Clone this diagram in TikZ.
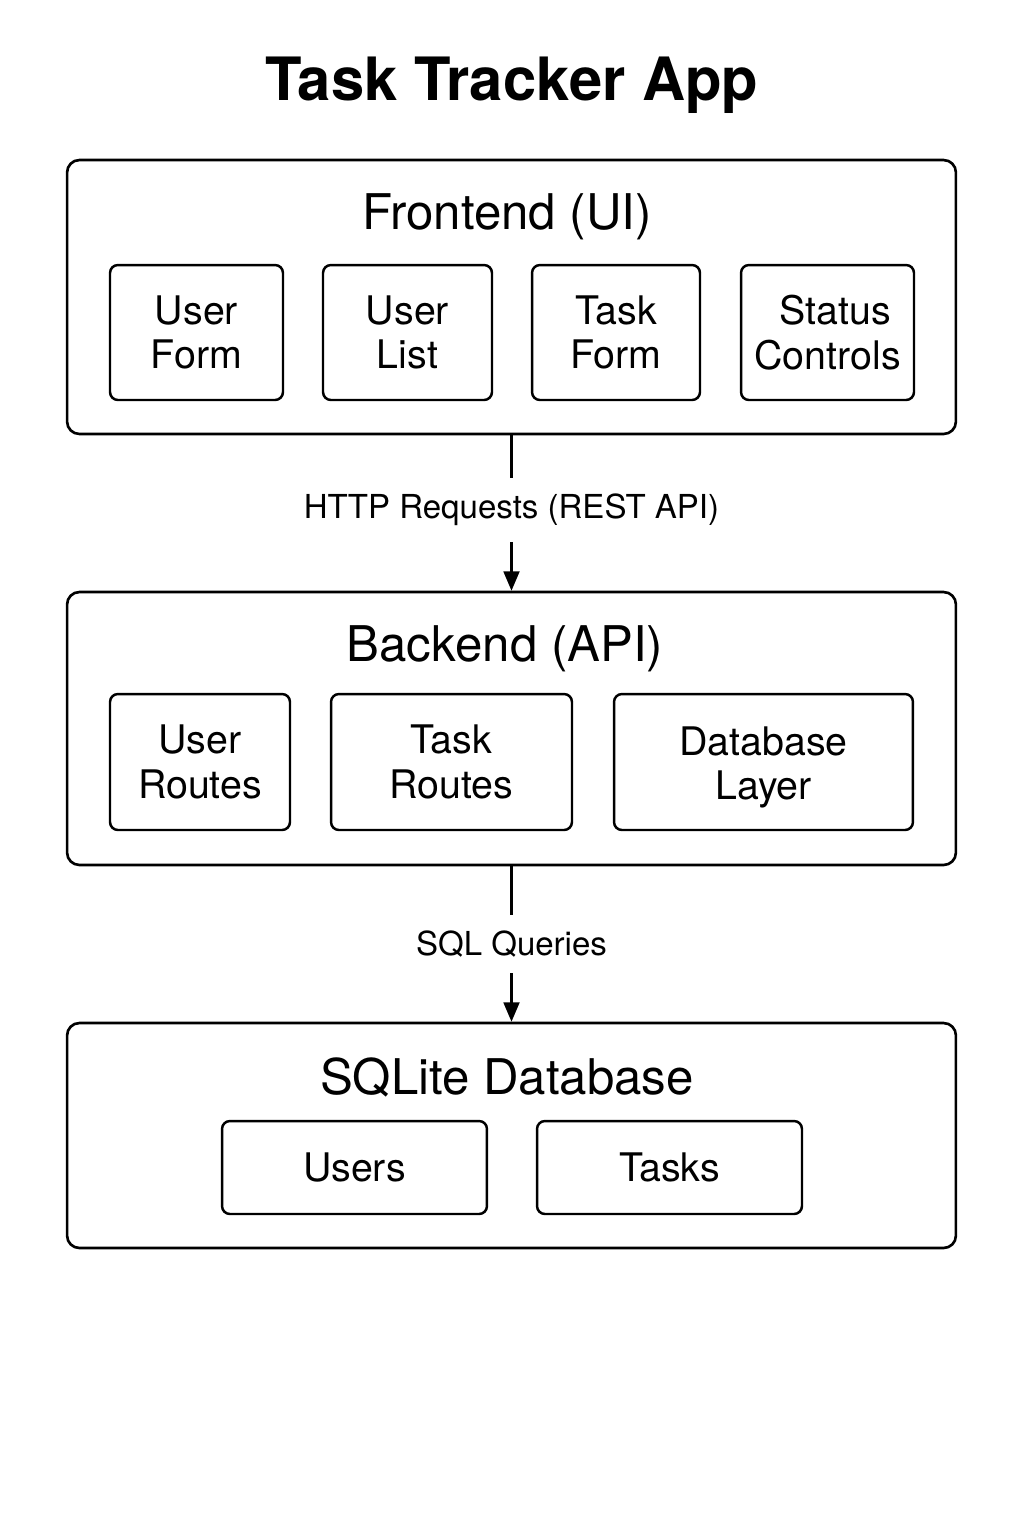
\documentclass[tikz,border=0pt]{standalone}
\usepackage{fontspec}
\setmainfont{TeX Gyre Heros}
\usetikzlibrary{positioning,arrows.meta}

\begin{document}
\begin{tikzpicture}[x=0.02cm,y=-0.02cm,
	layer/.style={draw=black,line width=1.5pt,rounded corners=7pt,minimum width=17.78cm},
	part/.style={draw=black,line width=1.4pt,rounded corners=4.5pt,align=center,font=\fontsize{22.4}{25.5}\selectfont},
	heading/.style={font=\fontsize{28}{32}\selectfont},
	flowlbl/.style={font=\fontsize{18.8}{22}\selectfont,inner sep=9pt},
	flow/.style={line width=1.4pt}]
		\useasboundingbox (0,0) rectangle (1024,1536);
		\node[font=\bfseries\fontsize{34}{40}\selectfont] (title) at (512,85) {Task Tracker App};
		
		\node[layer,minimum height=5.48cm] (front) at (511.5,297) {};
		\node[heading] (frontlbl) at (507,217) {Frontend (UI)};
		\node[part,minimum width=3.46cm,minimum height=2.7cm] (uform) at (196.5,332.5) {User\\Form};
		\node[part,minimum width=3.38cm,minimum height=2.7cm] (ulist) at (407.5,332.5) {User\\List};
		\node[part,minimum width=3.36cm,minimum height=2.7cm] (tform) at (616,332.5) {Task\\Form};
		\node[part,minimum width=3.46cm,minimum height=2.7cm] (status) at (827.5,332.5) {\hspace*{0.3cm}Status\\Controls};
		
		\node[flowlbl] (http) at (511.5,510) {HTTP Requests (REST API)};
		
		\node[layer,minimum height=5.46cm] (back) at (511.5,728.5) {};
		\node[heading] (backlbl) at (505,649) {Backend (API)};
		\node[part,minimum width=3.6cm,minimum height=2.72cm] (uroutes) at (200,762) {User\\Routes};
		\node[part,minimum width=4.82cm,minimum height=2.72cm] (troutes) at (451.5,762) {Task\\Routes};
		\node[part,minimum width=5.98cm,minimum height=2.72cm] (dblayer) at (763.5,762) {\rule{0pt}{22.5pt}Database\\Layer};
		
		\node[flowlbl] (sql) at (511.5,944) {SQL Queries};
		
		\node[layer,minimum height=4.5cm] (db) at (511.5,1135.5) {};
		\node[heading] (dblbl) at (507,1077) {SQLite Database};
		\node[part,minimum width=5.3cm,minimum height=1.86cm] (users) at (354.5,1167.5) {Users};
		\node[part,minimum width=5.3cm,minimum height=1.86cm] (tasks) at (669.5,1167.5) {Tasks};
		
		\draw[flow] (front) -- (http);
		\draw[flow,-{Triangle[width=9pt,length=11pt]}] (http) -- (back);
		\draw[flow] (back) -- (sql);
		\draw[flow,-{Triangle[width=9pt,length=11pt]}] (sql) -- (db);
	\end{tikzpicture}
\end{document}
